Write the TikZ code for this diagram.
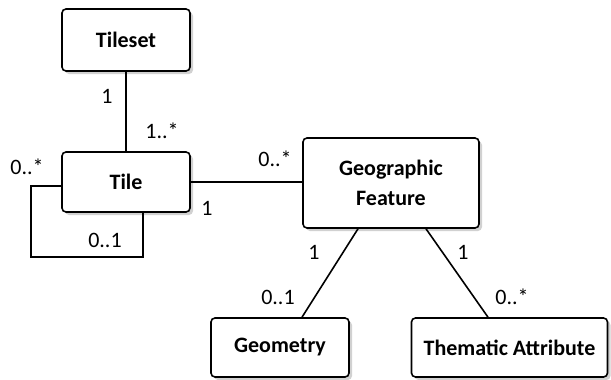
\documentclass[tikz,border=0pt]{standalone}
\usepackage{fontspec}
\setmainfont{Carlito}
\usepackage{tikz}
\usetikzlibrary{shadows}

\begin{document}
\begin{tikzpicture}[
  x=1pt, y=-1pt,
  box/.style={draw, line width=1.6pt, rounded corners=4pt, fill=white, align=center,
    font=\fontsize{22}{30}\selectfont\bfseries, inner sep=0pt,
    drop shadow={shadow xshift=3pt, shadow yshift=-3pt, fill=black!18, opacity=1}},
  assoc/.style={line width=1.6pt},
  mult/.style={inner sep=0pt, font=\fontsize{22}{26}\selectfont}
]
\useasboundingbox (0,0) rectangle (611,380);
\node[box, minimum width=128pt, minimum height=62pt] (tileset) at (126,40) {Tileset};
\node[box, minimum width=128pt, minimum height=60pt] (tile) at (126,182) {Tile};
\node[box, minimum width=176pt, minimum height=90pt] (geofeat) at (391,183) {Geographic\\Feature};
\node[box, minimum width=138pt, minimum height=59pt] (geometry) at (280,347.5) {Geometry};
\node[box, minimum width=196pt, minimum height=59pt] (thematic) at (509.5,347.5) {Thematic Attribute};
\coordinate (loopc) at (31,257);

\draw[assoc] (tileset) -- (tile);
\draw[assoc] (tile.east) -- (tile.east -| geofeat.west);
\draw[assoc] ([yshift=-4pt]tile.west) -| (loopc) -| ([xshift=17pt]tile.south);
\draw[assoc] ([xshift=-33pt]geofeat.south) -- ([xshift=22pt]geometry.north);
\draw[assoc] ([xshift=35pt]geofeat.south) -- ([xshift=-21.5pt]thematic.north);

% multiplicities
\node[mult] (m1) at (107,96) {1};
\node[mult] (m2) at (162,131) {1..*};
\node[mult] (m3) at (27,167) {0..*};
\node[mult] (m4) at (105,240) {0..1};
\node[mult] (m5) at (207,208) {1};
\node[mult] (m6) at (275,159) {0..*};
\node[mult] (m7) at (314,252) {1};
\node[mult] (m8) at (278,297) {0..1};
\node[mult] (m9) at (463,252) {1};
\node[mult] (m10) at (512,297) {0..*};
\end{tikzpicture}
\end{document}
